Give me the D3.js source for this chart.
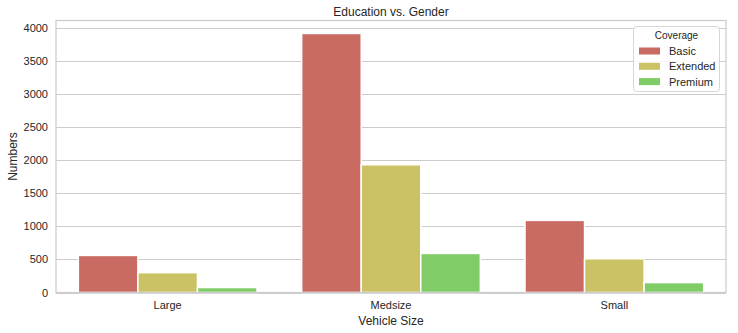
<!DOCTYPE html>
<html>
<head>
<meta charset="utf-8">
<script src="https://cdn.jsdelivr.net/npm/d3@7/dist/d3.min.js"></script>
<style>
  html, body { margin: 0; padding: 0; background: #fff; }
  svg { display: block; font-family: "Liberation Sans", Arial, sans-serif; }
</style>
</head>
<body>
<svg id="chart" width="738" height="333"></svg>
<script>
// Policy counts by vehicle size, split by coverage level
const categories = ["Large", "Medsize", "Small"];
const coverages = ["Basic", "Extended", "Premium"];
const basicValues = [560, 3915, 1090];
const extendedValues = [300, 1930, 510];
const premiumValues = [75, 590, 150];
const yTicks = [0, 500, 1000, 1500, 2000, 2500, 3000, 3500, 4000];
const colors = ["#ca6b63", "#cbc266", "#80cc66"];

const seriesValues = [basicValues, extendedValues, premiumValues];
const rows = [];
categories.forEach((cat, i) => {
  coverages.forEach((cov, j) => rows.push({ cat, cov, value: seriesValues[j][i] }));
});

const svg = d3.select("#chart");
const margin = { left: 56, right: 12, top: 20.5, bottom: 40.5 };
const W = 738, H = 333;
const x0 = margin.left, x1 = W - margin.right;
const y0 = H - margin.bottom, y1 = margin.top;

const yMax = d3.max(rows, d => d.value) * 1.05;
const y = d3.scaleLinear().domain([0, yMax]).range([y0, y1]);
const x = d3.scaleBand().domain(categories).range([x0, x1]).padding(0);
const xInner = d3.scaleBand().domain(coverages)
  .range([x.bandwidth() * 0.1, x.bandwidth() * 0.9]).padding(0);
const color = d3.scaleOrdinal().domain(coverages).range(colors);

// grid
svg.append("g")
  .selectAll("line").data(yTicks).join("line")
  .attr("x1", x0).attr("x2", x1)
  .attr("y1", d => Math.round(y(d)) + 0.5).attr("y2", d => Math.round(y(d)) + 0.5)
  .attr("stroke", "#cccccc").attr("stroke-width", 1);

// bars
svg.append("g")
  .selectAll("rect").data(rows).join("rect")
  .attr("x", d => x(d.cat) + xInner(d.cov))
  .attr("width", xInner.bandwidth())
  .attr("y", d => y(d.value))
  .attr("height", d => y(0) - y(d.value))
  .attr("fill", d => color(d.cov))
  .attr("stroke", "#ffffff").attr("stroke-width", 1.5);

// frame
svg.append("rect")
  .attr("x", x0).attr("y", y1).attr("width", x1 - x0).attr("height", y0 - y1)
  .attr("fill", "none").attr("stroke", "#cccccc").attr("stroke-width", 1.25);

// y axis
const yAxis = d3.axisLeft(y).tickValues(yTicks).tickFormat(d3.format("d"))
  .tickSize(0).tickPadding(8);
const gy = svg.append("g").attr("transform", `translate(${x0},0)`).call(yAxis);
gy.select(".domain").remove();
gy.selectAll("text").attr("fill", "#262626").style("font-size", "11px")
  .style("font-family", "Liberation Sans, Arial, sans-serif");

// x axis
const xAxis = d3.axisBottom(x).tickSize(0).tickPadding(9);
const gx = svg.append("g").attr("transform", `translate(0,${y0})`).call(xAxis);
gx.select(".domain").remove();
gx.selectAll("text").attr("fill", "#262626").style("font-size", "11px")
  .style("font-family", "Liberation Sans, Arial, sans-serif");

// titles
svg.append("text").attr("x", (x0 + x1) / 2).attr("y", 16)
  .attr("text-anchor", "middle").attr("fill", "#262626").style("font-size", "12px")
  .text("Education vs. Gender");
svg.append("text").attr("x", (x0 + x1) / 2).attr("y", 325)
  .attr("text-anchor", "middle").attr("fill", "#262626").style("font-size", "12px")
  .text("Vehicle Size");
svg.append("text")
  .attr("transform", `translate(17,${(y0 + y1) / 2}) rotate(-90)`)
  .attr("text-anchor", "middle").attr("fill", "#262626").style("font-size", "12px")
  .text("Numbers");

// legend
const lg = svg.append("g");
lg.append("rect").attr("x", 633.5).attr("y", 26.5).attr("width", 86).attr("height", 65)
  .attr("rx", 3).attr("fill", "#ffffff").attr("fill-opacity", 0.85)
  .attr("stroke", "#d6d6d6").attr("stroke-width", 1);
lg.append("text").attr("x", 676.5).attr("y", 38.5).attr("text-anchor", "middle")
  .attr("fill", "#262626").style("font-size", "10px").text("Coverage");
coverages.forEach((c, i) => {
  const cy = 51 + i * 15.3;
  lg.append("rect").attr("x", 639).attr("y", cy - 3.5).attr("width", 21).attr("height", 7)
    .attr("fill", color(c));
  lg.append("text").attr("x", 669).attr("y", cy + 4).attr("fill", "#262626")
    .style("font-size", "11px").text(c);
});
</script>
</body>
</html>
